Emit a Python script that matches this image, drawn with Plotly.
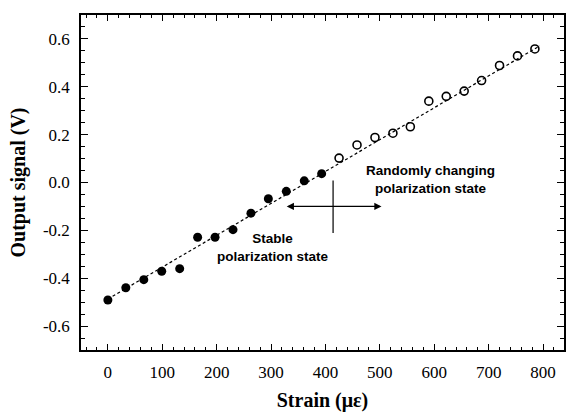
import plotly.graph_objects as go

# Data
stable_strain = [0, 33, 66, 99, 132, 165, 197, 230, 263, 295, 328, 361, 393]
stable_signal = [-0.491, -0.44, -0.406, -0.371, -0.36, -0.229, -0.229, -0.197,
                 -0.128, -0.068, -0.037, 0.007, 0.037]
random_strain = [425, 458, 491, 524, 556, 590, 622, 655, 687, 720, 753, 785]
random_signal = [0.102, 0.157, 0.188, 0.206, 0.233, 0.34, 0.36, 0.382,
                 0.426, 0.489, 0.529, 0.558]
fit_strain = [0, 794]
fit_signal = [-0.487, 0.571]

x_ticks = [0, 100, 200, 300, 400, 500, 600, 700, 800]
y_ticks = [-0.6, -0.4, -0.2, 0.0, 0.2, 0.4, 0.6]

fig = go.Figure()
fig.add_trace(go.Scatter(x=fit_strain, y=fit_signal, mode="lines",
                         line=dict(color="black", width=1.2, dash="3px,2.5px"),
                         showlegend=False, hoverinfo="skip"))
fig.add_trace(go.Scatter(x=stable_strain, y=stable_signal, mode="markers",
                         marker=dict(symbol="circle", size=9, color="black"),
                         showlegend=False))
fig.add_trace(go.Scatter(x=random_strain, y=random_signal, mode="markers",
                         marker=dict(symbol="circle-open", size=8, color="black",
                                     line=dict(width=1.6)),
                         showlegend=False))

tickfont = dict(family="Liberation Serif, Times New Roman, serif", size=17, color="black")
titlefont = dict(family="Liberation Serif, Times New Roman, serif", size=20, color="black")

fig.update_xaxes(range=[-49.4, 838.5], tickvals=x_ticks,
                 ticktext=[str(v) for v in x_ticks],
                 ticks="inside", ticklen=6, tickwidth=1.2, tickcolor="black",
                 minor=dict(dtick=20, tick0=0, ticks="inside", ticklen=3, tickwidth=1, tickcolor="black"),
                 showline=True, linecolor="black", linewidth=1.5, mirror="allticks",
                 showgrid=False, zeroline=False, tickfont=tickfont,
                 ticklabelstandoff=6,
                 title=dict(text="<b>Strain (με)</b>", font=titlefont, standoff=12))
fig.update_yaxes(range=[-0.7, 0.7], tickvals=y_ticks,
                 ticktext=[f"{v:.1f}" for v in y_ticks],
                 ticks="inside", ticklen=7, tickwidth=1.2, tickcolor="black",
                 minor=dict(dtick=0.05, tick0=0, ticks="inside", ticklen=4, tickwidth=1, tickcolor="black"),
                 showline=True, linecolor="black", linewidth=1.5, mirror="allticks",
                 showgrid=False, zeroline=False, tickfont=tickfont,
                 ticklabelstandoff=6,
                 title=dict(text="<b>Output signal (V)</b>", font=titlefont, standoff=12))

annfont = dict(family="Liberation Sans, Arial, sans-serif", size=13.5, color="black")
fig.add_annotation(x=593, y=0.0145, xref="x", yref="y",
                   text="<b>Randomly changing<br>polarization state</b>",
                   showarrow=False, font=annfont, align="center")
fig.add_annotation(x=303, y=-0.27, xref="x", yref="y",
                   text="<b>Stable<br>polarization state</b>",
                   showarrow=False, font=annfont, align="center")
# double-headed arrow
fig.add_annotation(x=503, y=-0.10, ax=326, ay=-0.10, xref="x", yref="y",
                   axref="x", ayref="y", text="", showarrow=True,
                   arrowhead=2, arrowside="end+start", arrowsize=1.2,
                   arrowwidth=1.2, arrowcolor="black")
fig.add_shape(type="line", x0=414, x1=414, y0=0.008, y1=-0.211,
              xref="x", yref="y", line=dict(color="black", width=1.2))

fig.update_layout(width=571, height=413, margin=dict(l=81, r=5, t=15, b=61),
                  paper_bgcolor="white", plot_bgcolor="white")
fig.write_html("out.html")
